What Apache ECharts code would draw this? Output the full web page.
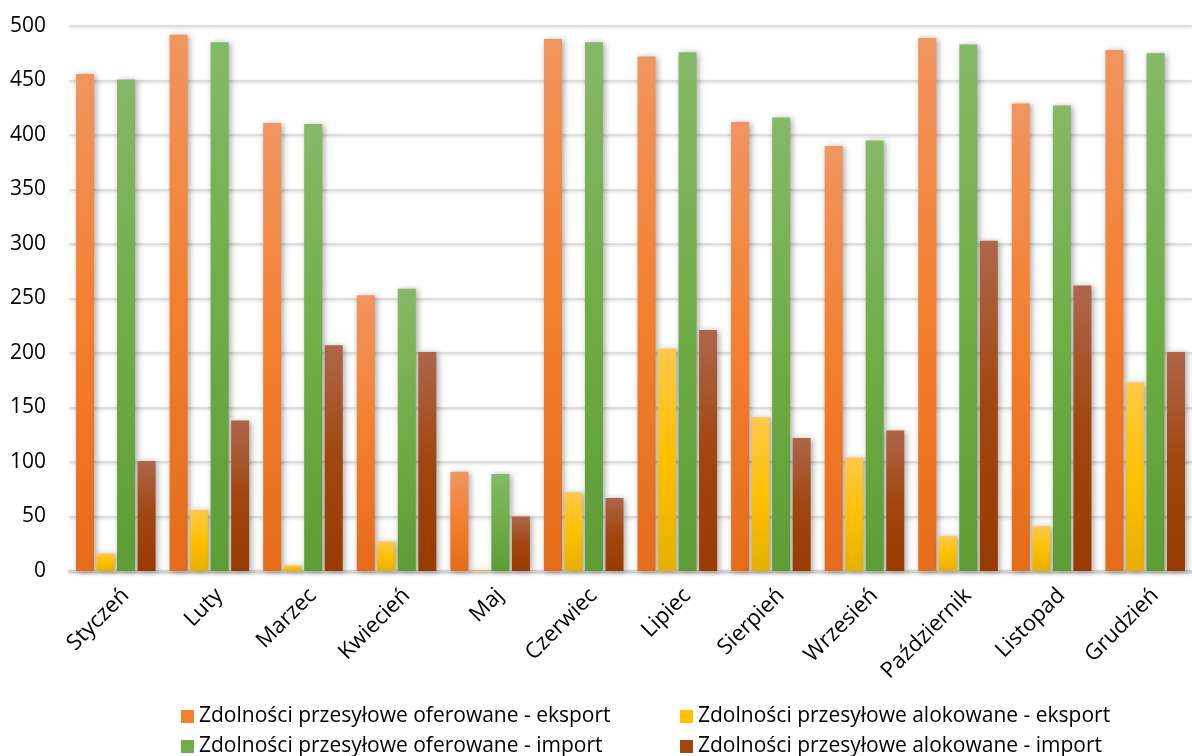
<!DOCTYPE html>
<html>
<head>
<meta charset="utf-8">
<script src="https://cdn.jsdelivr.net/npm/echarts@6/dist/echarts.min.js"></script>
<style>
  html, body { margin: 0; padding: 0; background: #ffffff; }
  #chart { width: 1192px; height: 756px; }
</style>
</head>
<body>
<div id="chart"></div>
<script>
// Miesiące
const months = ['Styczeń', 'Luty', 'Marzec', 'Kwiecień', 'Maj', 'Czerwiec', 'Lipiec',
  'Sierpień', 'Wrzesień', 'Październik', 'Listopad', 'Grudzień'];

// Nazwy serii
const seriesNames = [
  'Zdolności przesyłowe oferowane - eksport',
  'Zdolności przesyłowe alokowane - eksport',
  'Zdolności przesyłowe oferowane - import',
  'Zdolności przesyłowe alokowane - import'
];

// Wartości (MW)
const offeredExport   = [456, 492, 411, 253, 91, 488, 472, 412, 390, 489, 429, 478];
const allocatedExport = [16, 56, 5, 27, 1, 72, 204, 141, 104, 32, 41, 173];
const offeredImport   = [451, 485, 410, 259, 89, 485, 476, 416, 395, 483, 427, 475];
const allocatedImport = [101, 138, 207, 201, 50, 67, 221, 122, 129, 303, 262, 201];

// Oś Y
const yMin = 0, yMax = 500, yStep = 50;

const FONT = 'Open Sans';

function grad(top, mid, bottom) {
  return new echarts.graphic.LinearGradient(0, 0, 0, 1, [
    { offset: 0, color: top },
    { offset: 0.5, color: mid },
    { offset: 1, color: bottom }
  ]);
}

const fills = [
  grad('#F1955F', '#F47F2E', '#E46C1B'),
  grad('#FFC84A', '#FFC000', '#E6B000'),
  grad('#86B967', '#70AD47', '#5E9C35'),
  grad('#AE664A', '#A1460F', '#983B00')
];
const legendColors = ['#F47F2E', '#FFC000', '#70AD47', '#A1460F'];

const values = [offeredExport, allocatedExport, offeredImport, allocatedImport];

// Legenda 2 x 2: kolumna, wiersz dla każdej serii
const legendSlots = [[176, 701], [675, 701], [176, 731], [675, 731]];

const chart = echarts.init(document.getElementById('chart'), null, { renderer: 'canvas' });

chart.setOption({
  animation: false,
  backgroundColor: '#ffffff',
  textStyle: { fontFamily: FONT },
  grid: { left: 69, right: -10, top: 26, bottom: 185, containLabel: false },
  legend: seriesNames.map((name, i) => ({
    left: legendSlots[i][0], top: legendSlots[i][1],
    itemWidth: 13, itemHeight: 13, icon: 'rect',
    textStyle: { fontFamily: FONT, fontSize: 21, color: '#000000' },
    data: [{ name: name, itemStyle: { color: legendColors[i] } }]
  })),
  xAxis: {
    type: 'category',
    data: months,
    axisTick: { show: false },
    axisLine: {
      show: true,
      lineStyle: { color: '#d4d4d4', width: 2, shadowColor: 'rgba(0,0,0,0.25)', shadowBlur: 3, shadowOffsetY: 1 }
    },
    axisLabel: {
      rotate: 45, margin: 31, interval: 0,
      padding: [0, -14, 0, 0],
      fontFamily: FONT, fontSize: 22, color: '#000000'
    }
  },
  yAxis: {
    type: 'value',
    min: yMin, max: yMax, interval: yStep,
    axisLine: { show: false },
    axisTick: { show: false },
    axisLabel: { margin: 23, fontFamily: FONT, fontSize: 21, color: '#000000' },
    splitLine: {
      show: true,
      lineStyle: { color: '#d9d9d9', width: 1.5, shadowColor: 'rgba(0,0,0,0.2)', shadowBlur: 3, shadowOffsetY: 1 }
    }
  },
  series: values.map((arr, i) => ({
    name: seriesNames[i],
    type: 'bar',
    data: arr,
    barWidth: 18,
    barGap: '14%',
    itemStyle: {
      color: fills[i],
      shadowColor: 'rgba(0,0,0,0.35)',
      shadowBlur: 6,
      shadowOffsetX: 2,
      shadowOffsetY: 1
    }
  }))
});
</script>
</body>
</html>
